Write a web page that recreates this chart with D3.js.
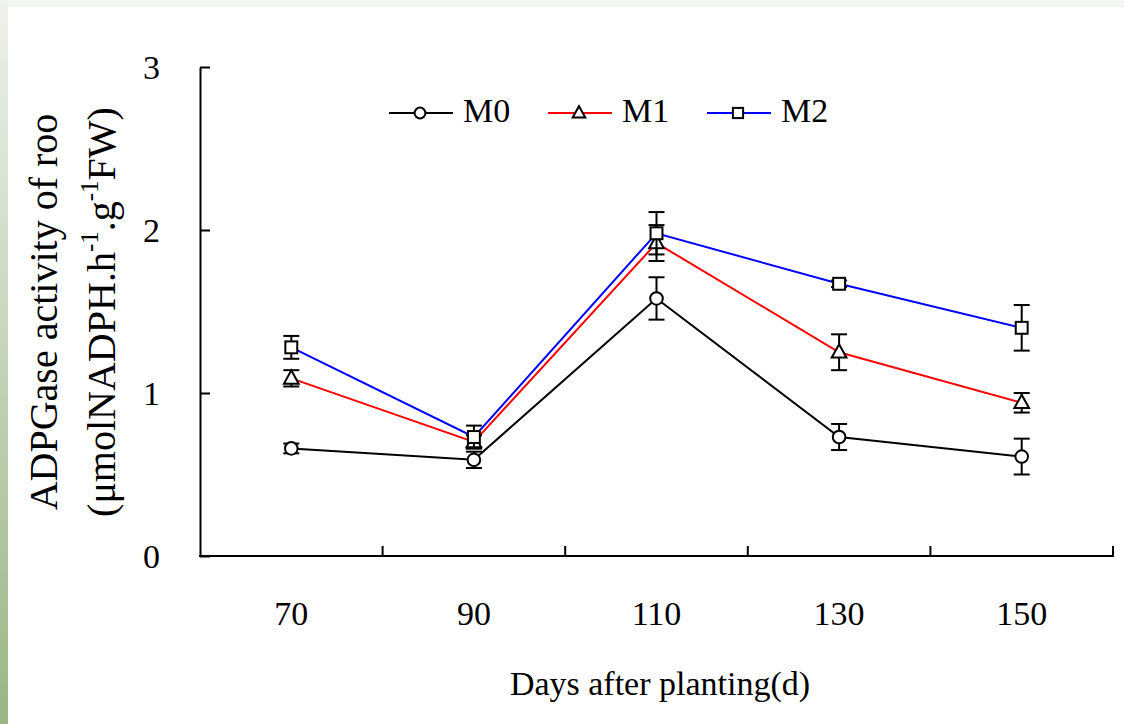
<!DOCTYPE html>
<html>
<head>
<meta charset="utf-8">
<script src="https://cdn.jsdelivr.net/npm/d3@7"></script>
<style>
	html, body { margin: 0; padding: 0; background: #fff; }
	svg text { font-family: "Liberation Serif", "Times New Roman", serif; fill: #000; }
</style>
</head>
<body>
<div id="chart"></div>
<script>
'use strict';

var days = ['70', '90', '110', '130', '150'];
var seriesNames = ['M0', 'M1', 'M2'];
var seriesColors = ['#000000', '#ff0000', '#0000ff'];
var seriesShapes = ['circle', 'triangle', 'square'];
var m0Values = [0.66, 0.59, 1.58, 0.73, 0.61];
var m0Errors = [0.03, 0.05, 0.13, 0.08, 0.11];
var m1Values = [1.09, 0.70, 1.92, 1.25, 0.94];
var m1Errors = [0.05, 0.04, 0.11, 0.11, 0.06];
var m2Values = [1.28, 0.73, 1.98, 1.67, 1.40];
var m2Errors = [0.07, 0.07, 0.13, 0.02, 0.14];
var yTicks = [0, 1, 2, 3];

var W = 1124, H = 724;
var plotLeft = 200, plotRight = 1113, plotTop = 67, plotBottom = 556;

var svg = d3.select('#chart').append('svg')
	.attr('width', W)
	.attr('height', H);

// slide background: grey top strip, green fading strip on the left
var defs = svg.append('defs');
var grad = defs.append('linearGradient')
	.attr('id', 'side_grad')
	.attr('x1', 0).attr('y1', 0).attr('x2', 0).attr('y2', 1);
grad.append('stop').attr('offset', '0%').attr('stop-color', '#eef1ec');
grad.append('stop').attr('offset', '100%').attr('stop-color', '#99b684');

svg.append('rect').attr('x', 0).attr('y', 0).attr('width', W).attr('height', 7)
	.attr('fill', '#f3f5f1');
svg.append('rect').attr('x', 0).attr('y', 0).attr('width', 8).attr('height', H)
	.attr('fill', 'url(#side_grad)');

var x = d3.scaleBand().domain(days).range([plotLeft, plotRight]).padding(0);
var y = d3.scaleLinear().domain([0, 3]).range([plotBottom, plotTop]);

function cx (d)	{ return x(d) + x.bandwidth() / 2; }

// y axis, ticks inward
var yAxis = d3.axisLeft(y)
	.tickValues(yTicks)
	.tickSizeInner(-10)
	.tickSizeOuter(0)
	.tickPadding(40)
	.tickFormat(d3.format('d'));

var gy = svg.append('g')
	.attr('transform', 'translate(' + plotLeft + ',0)')
	.call(yAxis);
gy.select('.domain').attr('stroke', '#000').attr('stroke-width', 2);
gy.selectAll('.tick line').attr('stroke', '#000').attr('stroke-width', 2);
gy.selectAll('.tick text')
	.style('font-size', '34px')
	.attr('dy', '0.34em');

// x axis: line, ticks between categories, labels under each category
var gx = svg.append('g');
gx.append('line')
	.attr('x1', plotLeft - 1).attr('x2', plotRight + 1)
	.attr('y1', plotBottom).attr('y2', plotBottom)
	.attr('stroke', '#000').attr('stroke-width', 2);
gx.selectAll('.xtick')
	.data(days)
	.enter().append('line')
	.attr('class', 'xtick')
	.attr('x1', function (d) { return x(d) + x.bandwidth(); })
	.attr('x2', function (d) { return x(d) + x.bandwidth(); })
	.attr('y1', plotBottom)
	.attr('y2', plotBottom - 10)
	.attr('stroke', '#000').attr('stroke-width', 2);
gx.selectAll('.xlabel')
	.data(days)
	.enter().append('text')
	.attr('class', 'xlabel')
	.attr('x', cx)
	.attr('y', 625)
	.attr('text-anchor', 'middle')
	.style('font-size', '34px')
	.text(function (d) { return d; });

svg.append('text')
	.attr('x', 660)
	.attr('y', 695)
	.attr('text-anchor', 'middle')
	.style('font-size', '34px')
	.text('Days after planting(d)');

// y axis title, two rotated lines
var yt = svg.append('g')
	.attr('transform', 'translate(0,312) rotate(-90)');
yt.append('text')
	.attr('x', 0).attr('y', 57)
	.attr('text-anchor', 'middle')
	.style('font-size', '40px')
	.text('ADPGase activity of roo');
var t2 = yt.append('text')
	.attr('x', 0).attr('y', 115)
	.attr('text-anchor', 'middle')
	.style('font-size', '40px');
t2.append('tspan').text('(μmolNADPH.h');
t2.append('tspan').attr('dy', -17).style('font-size', '25px').text('-1');
t2.append('tspan').attr('dy', 17).text('.g');
t2.append('tspan').attr('dy', -17).style('font-size', '25px').text('-1');
t2.append('tspan').attr('dy', 17).text('FW)');

var allValues = [m0Values, m1Values, m2Values];
var allErrors = [m0Errors, m1Errors, m2Errors];

function drawMarker (g, shape, px, py, size)	{
	if (shape === 'circle')	{
		g.append('circle').attr('cx', px).attr('cy', py).attr('r', size * 0.45)
			.attr('fill', '#fff').attr('stroke', '#000').attr('stroke-width', 2);
	} else if (shape === 'square')	{
		var s = size * 0.85;
		g.append('rect').attr('x', px - s / 2).attr('y', py - s / 2)
			.attr('width', s).attr('height', s)
			.attr('fill', '#fff').attr('stroke', '#000').attr('stroke-width', 2);
	} else {
		var h = size * 0.95, w = size * 1.05;
		g.append('path')
			.attr('d', 'M' + px + ',' + (py - h * 0.6) +
				'L' + (px + w / 2) + ',' + (py + h * 0.4) +
				'L' + (px - w / 2) + ',' + (py + h * 0.4) + 'Z')
			.attr('fill', '#fff').attr('stroke', '#000').attr('stroke-width', 2)
			.attr('stroke-linejoin', 'miter');
	}
}

var line = d3.line()
	.x(function (d) { return cx(d.day); })
	.y(function (d) { return y(d.v); });

// lines first
seriesNames.forEach(function (name, i)	{
	var pts = days.map(function (d, j) { return { day: d, v: allValues[i][j] }; });
	svg.append('path')
		.datum(pts)
		.attr('d', line)
		.attr('fill', 'none')
		.attr('stroke', seriesColors[i])
		.attr('stroke-width', 2);
});

// error bars and markers
seriesNames.forEach(function (name, i)	{
	var g = svg.append('g').attr('class', 'series-' + name);
	days.forEach(function (d, j)	{
		var v = allValues[i][j], e = allErrors[i][j], px = cx(d);
		g.append('line')
			.attr('x1', px).attr('x2', px)
			.attr('y1', y(v + e)).attr('y2', y(v - e))
			.attr('stroke', '#000').attr('stroke-width', 2);
		[v + e, v - e].forEach(function (ev)	{
			g.append('line')
				.attr('x1', px - 8).attr('x2', px + 8)
				.attr('y1', y(ev)).attr('y2', y(ev))
				.attr('stroke', '#000').attr('stroke-width', 2);
		});
		drawMarker(g, seriesShapes[i], px, y(v), 14);
	});
});

// legend
var legendX = [389, 548, 707];
var lg = svg.append('g');
seriesNames.forEach(function (name, i)	{
	var lx = legendX[i], ly = 113;
	lg.append('line')
		.attr('x1', lx).attr('x2', lx + 64)
		.attr('y1', ly).attr('y2', ly)
		.attr('stroke', seriesColors[i]).attr('stroke-width', 2);
	drawMarker(lg, seriesShapes[i], lx + 31, ly, 12);
	lg.append('text')
		.attr('x', lx + 74)
		.attr('y', ly + 9)
		.style('font-size', '34px')
		.text(name);
});
</script>
</body>
</html>
